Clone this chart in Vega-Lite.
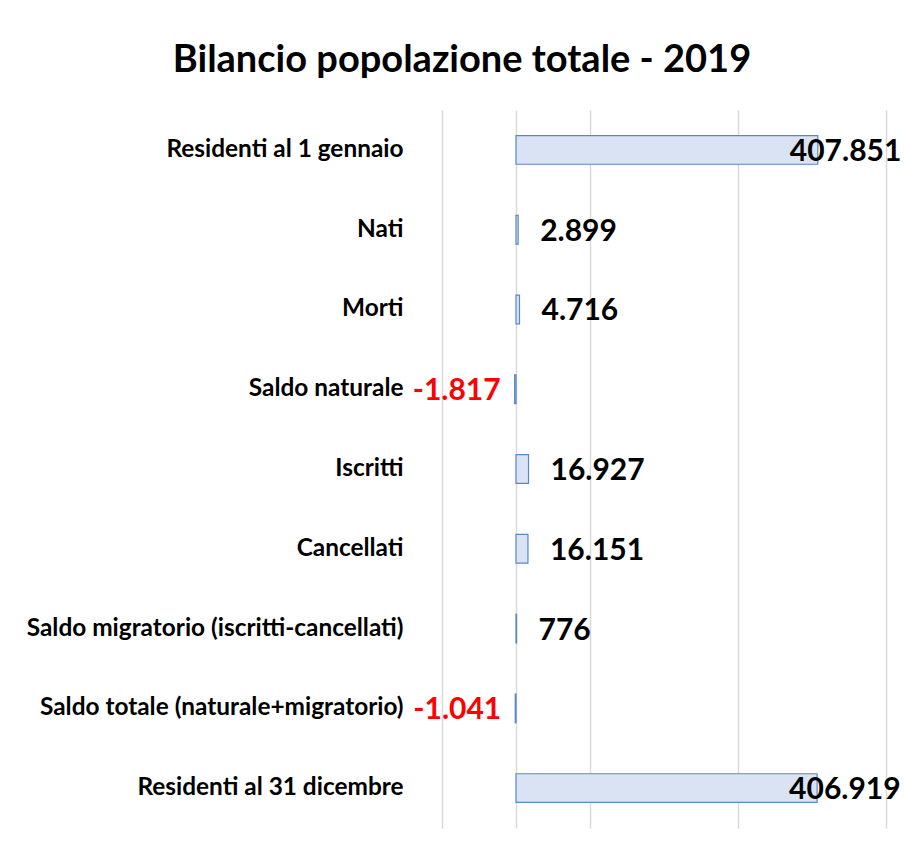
{
  "$schema": "https://vega.github.io/schema/vega-lite/v6.json",
  "width": 444,
  "height": 718,
  "autosize": "none",
  "padding": {"left": 442, "top": 110, "right": 18, "bottom": 25},
  "background": "white",
  "config": {
    "view": {"stroke": null},
    "locale": {"number": {"decimal": ",", "thousands": ".", "grouping": [3], "currency": ["€", ""], "minus": "-"}}
  },
  "title": {
    "text": "Bilancio popolazione totale - 2019",
    "font": "Lato",
    "fontSize": 38,
    "fontWeight": "bold",
    "color": "#000000",
    "anchor": "middle",
    "frame": "group",
    "dx": -202,
    "offset": 0,
    "baseline": "alphabetic"
  },
  "data": {
    "values": [
      {"voce": "Residenti al 1 gennaio", "valore": 407851},
      {"voce": "Nati", "valore": 2899},
      {"voce": "Morti", "valore": 4716},
      {"voce": "Saldo naturale", "valore": -1817},
      {"voce": "Iscritti", "valore": 16927},
      {"voce": "Cancellati", "valore": 16151},
      {"voce": "Saldo migratorio (iscritti-cancellati)", "valore": 776},
      {"voce": "Saldo totale (naturale+migratorio)", "valore": -1041},
      {"voce": "Residenti al 31 dicembre", "valore": 406919}
    ]
  },
  "encoding": {
    "y": {
      "field": "voce",
      "type": "nominal",
      "sort": null,
      "scale": {"paddingInner": 0.64, "paddingOuter": 0.32},
      "axis": {
        "title": null,
        "domain": false,
        "ticks": false,
        "tickSize": 0,
        "labelPadding": 39,
        "labelLimit": 600,
        "labelFont": "Lato",
        "labelFontSize": 24.4,
        "labelFontWeight": "bold",
        "labelColor": "#000000",
        "grid": false
      }
    }
  },
  "layer": [
    {
      "mark": {"type": "bar", "fill": "#dae3f3", "stroke": "#5a87c8", "strokeWidth": 1.2},
      "encoding": {
        "x": {
          "field": "valore",
          "type": "quantitative",
          "scale": {"domain": [-100000, 500000], "nice": false, "zero": false},
          "axis": {
            "title": null,
            "labels": false,
            "ticks": false,
            "domain": false,
            "grid": true,
            "gridColor": "#d9d9d9",
            "gridWidth": 1.5,
            "values": [-100000, 0, 100000, 300000, 500000]
          }
        }
      }
    },
    {
      "transform": [{"filter": "datum.valore >= 0 && datum.valore < 100000"}],
      "mark": {"type": "text", "align": "left", "baseline": "middle", "dx": 22, "dy": 2, "font": "Lato", "fontSize": 30, "fontWeight": "bold", "color": "#000000"},
      "encoding": {
        "x": {"field": "valore", "type": "quantitative"},
        "text": {"field": "valore", "type": "quantitative", "format": ",d"}
      }
    },
    {
      "transform": [{"filter": "datum.valore >= 100000"}],
      "mark": {"type": "text", "align": "left", "baseline": "middle", "dx": -28, "dy": 2, "font": "Lato", "fontSize": 30, "fontWeight": "bold", "color": "#000000"},
      "encoding": {
        "x": {"field": "valore", "type": "quantitative"},
        "text": {"field": "valore", "type": "quantitative", "format": ",d"}
      }
    },
    {
      "transform": [{"filter": "datum.valore < 0"}],
      "mark": {"type": "text", "align": "right", "baseline": "middle", "dx": -14, "dy": 2, "font": "Lato", "fontSize": 30, "fontWeight": "bold", "color": "#ff0000"},
      "encoding": {
        "x": {"field": "valore", "type": "quantitative"},
        "text": {"field": "valore", "type": "quantitative", "format": ",d"}
      }
    }
  ]
}
